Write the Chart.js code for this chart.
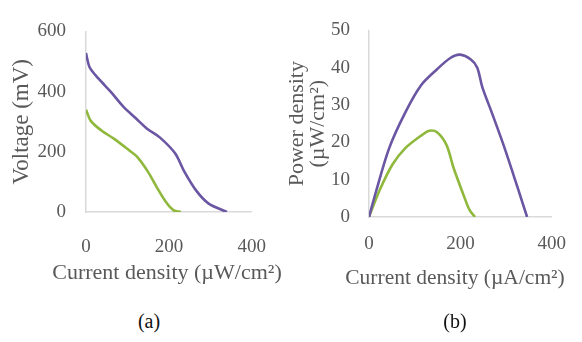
<!DOCTYPE html>
<html>
<head>
<meta charset="utf-8">
<script src="https://cdn.jsdelivr.net/npm/chart.js@4/dist/chart.umd.min.js"></script>
<style>
  html, body { margin: 0; padding: 0; background: #ffffff; }
  body { width: 582px; height: 342px; position: relative; overflow: hidden; }
  .box { position: absolute; top: 0; height: 300px; }
  #boxA { left: 0; width: 290px; }
  #boxB { left: 282px; width: 300px; }
  .cap { position: absolute; top: 310px; font-family: "Liberation Serif", serif; font-size: 20px; color: #111; transform: translateX(-50%); }
  .xt { position: absolute; font-family: "Liberation Serif", serif; line-height: 1; color: #595959;
        white-space: nowrap; transform: translate(-50%, -50%); }
</style>
</head>
<body>
<div class="box" id="boxA"><canvas id="chartA" width="290" height="300"></canvas></div>
<div class="box" id="boxB"><canvas id="chartB" width="300" height="300"></canvas></div>
<div class="xt" id="xtA" style="left:167px; top:272px; font-size:22px"></div>
<div class="xt" id="xtB" style="left:455px; top:278px; font-size:21.5px"></div>
<div class="cap" style="left:149px">(a)</div>
<div class="cap" style="left:455px">(b)</div>
<script>
// ---- data: (a) polarization curves ----
const xTicksA = [0, 200, 400];
const yTicksA = [0, 200, 400, 600];
const purpleCurrentA = [0, 9, 31, 60, 90, 119, 149, 178, 215, 237, 266, 296, 340];
const purpleVoltage  = [528, 480, 442, 399, 350, 313, 275, 248, 195, 135, 71, 28, 0];
const greenCurrentA  = [0, 12, 38, 68, 104, 123, 149, 171, 193, 211, 229];
const greenVoltage   = [340, 302, 270, 243, 205, 184, 135, 82, 33, 6, 0];

// ---- data: (b) power density curves ----
const xTicksB = [0, 200, 400];
const yTicksB = [0, 10, 20, 30, 40, 50];
const purpleCurrentB = [0, 16, 44, 79, 114, 149, 178, 199, 223, 237, 248, 269, 297, 325, 346];
const purplePower    = [0, 7.1, 18.4, 27.9, 35.3, 39.6, 42.6, 43.5, 42.2, 40, 34.8, 27.9, 18.4, 8, 0];
const greenCurrentB  = [0, 23, 51, 79, 114, 132, 149, 170, 185, 206, 220, 232];
const greenPower     = [0, 7.1, 14, 18.4, 21.8, 23.1, 22.7, 19.2, 13.2, 6.2, 1.9, 0];

const xTitleA = 'Current density (\u00b5W/cm\u00b2)';
const yTitleA = 'Voltage (mV)';
const xTitleB = 'Current density (\u00b5A/cm\u00b2)';
const yTitleB = ['Power density', '(\u00b5W/cm\u00b2)'];

document.getElementById('xtA').textContent = xTitleA;
document.getElementById('xtB').textContent = xTitleB;

const PURPLE = '#6a56a2';
const GREEN = '#8fb83c';
const AXIS = '#d9d9d9';
const TXT = '#595959';
const SERIF = '"Liberation Serif", "Times New Roman", serif';

function pts(xs, ys) { return xs.map((x, i) => ({ x: x, y: ys[i] })); }

function ds(data, color) {
  return { data: data, borderColor: color, backgroundColor: color, borderWidth: 2.6,
           pointRadius: 0, showLine: true, tension: 0.3, fill: false };
}

function makeChart(id, cfg) {
  return new Chart(document.getElementById(id), {
    type: 'scatter',
    data: { datasets: cfg.datasets },
    options: {
      responsive: false, animation: false,
      layout: { padding: cfg.pad },
      plugins: { legend: { display: false }, tooltip: { enabled: false } },
      scales: {
        x: {
          type: 'linear', min: cfg.xTicks[0], max: cfg.xTicks[cfg.xTicks.length - 1],
          afterBuildTicks: s => { s.ticks = cfg.xTicks.map(v => ({ value: v })); },
          afterFit: s => { s.height = cfg.xH; },
          grid: { display: false, drawTicks: false },
          border: { display: true, color: AXIS, width: 1.5 },
          ticks: { color: TXT, font: { family: SERIF, size: 19 }, padding: cfg.xTickPad, maxRotation: 0 },
          title: { display: false }
        },
        y: {
          type: 'linear', min: cfg.yTicks[0], max: cfg.yTicks[cfg.yTicks.length - 1],
          afterBuildTicks: s => { s.ticks = cfg.yTicks.map(v => ({ value: v })); },
          afterFit: s => { s.width = cfg.yW; },
          grid: { display: false, drawTicks: false },
          border: { display: true, color: AXIS, width: 1.5 },
          ticks: { color: TXT, font: { family: SERIF, size: 19 }, padding: cfg.yTickPad },
          title: { display: true, text: cfg.yTitle, color: TXT,
                   font: { family: SERIF, size: cfg.yTitleSize, lineHeight: cfg.yTitleLH },
                   padding: { top: cfg.yTitlePad, bottom: 0 } }
        }
      }
    }
  });
}

makeChart('chartA', {
  datasets: [ds(pts(purpleCurrentA, purpleVoltage), PURPLE), ds(pts(greenCurrentA, greenVoltage), GREEN)],
  xTicks: xTicksA, yTicks: yTicksA,
  pad: { top: 28, right: 23, bottom: 0, left: 0 },
  xH: 88, yW: 86, xTickPad: 24, yTickPad: 20, yTitlePad: 8, yTitleLH: 1.2,
  yTitleSize: 23, yTitle: yTitleA
});

makeChart('chartB', {
  datasets: [ds(pts(purpleCurrentB, purplePower), PURPLE), ds(pts(greenCurrentB, greenPower), GREEN)],
  xTicks: xTicksB, yTicks: yTicksB,
  pad: { top: 25, right: 22, bottom: 0, left: 0 },
  xH: 83, yW: 87, xTickPad: 16, yTickPad: 19, yTitlePad: 5, yTitleLH: 0.95,
  yTitleSize: 22, yTitle: yTitleB
});
</script>
</body>
</html>
